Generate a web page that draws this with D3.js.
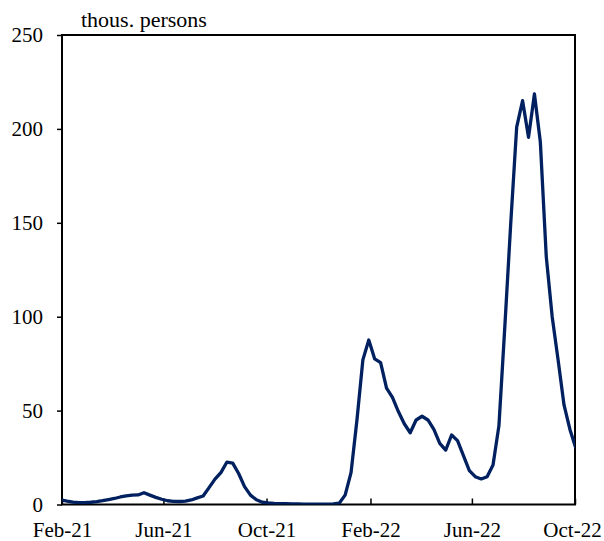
<!DOCTYPE html>
<html>
<head>
<meta charset="utf-8">
<script src="https://cdn.jsdelivr.net/npm/d3@7"></script>
<style>
  body { margin: 0; background: #fff; }
  svg { display: block; }
  .axis text { font-family: "Liberation Serif", "Times New Roman", serif; font-size: 21px; fill: #000; }
  .unit-text { font-family: "Liberation Serif", "Times New Roman", serif; font-size: 22px; fill: #000; }
</style>
</head>
<body>
<svg id="chart" width="604" height="541"></svg>
<script>
// weekly series, first week ending 31 Jan 2021
const startDate = new Date(Date.UTC(2021, 0, 31));
const values = [
  2.4, 1.8, 1.3, 1.0, 1.0, 1.2, 1.5, 2.0, 2.6, 3.2,
  4.0, 4.6, 5.0, 5.1, 6.3, 5.0, 3.8, 2.8, 2.0, 1.7,
  1.6, 1.8, 2.4, 3.5, 4.5, 9.0, 13.5, 17.0, 22.5, 22.0,
  16.5, 9.5, 5.0, 2.5, 1.2, 0.8, 0.6, 0.5, 0.4, 0.3,
  0.3, 0.2, 0.2, 0.2, 0.2, 0.2, 0.3, 0.7, 5.0, 17.0,
  45.0, 77.0, 87.6, 77.5, 75.5, 62.0, 57.0, 49.5, 43.0, 38.2,
  45.0, 47.0, 45.0, 40.0, 32.5, 29.0, 37.0, 34.0, 26.0, 18.0,
  14.8, 13.6, 14.8, 21.0, 42.0, 95.0, 150.0, 201.0, 215.0, 195.5,
  218.6, 193.0, 132.0, 100.0, 77.0, 53.0, 40.0, 30.0
];
const xTickDates = ["2021-02-01", "2021-06-01", "2021-10-01", "2022-02-01", "2022-06-01", "2022-10-01"];
const yTicks = [0, 50, 100, 150, 200, 250];
const unitLabel = "thous. persons";

function drawChart(svgId) {
    const margin = { left: 62, top: 35, right: 29, bottom: 36.5 };
    const svg = d3.select("#" + svgId);
    const width = +svg.attr("width") - margin.left - margin.right;
    const height = +svg.attr("height") - margin.top - margin.bottom;
    const lineColor = "#002060";

    const tickDates = xTickDates.map(function(s) { return new Date(s + "T00:00:00Z"); });

    var x = d3.scaleUtc()
        .domain([tickDates[0], tickDates[tickDates.length - 1]])
        .range([0, width]);

    var y = d3.scaleLinear()
        .domain([0, 250])
        .range([height, 0]);

    var data = values.map(function(v, i) {
        return { date: d3.utcDay.offset(startDate, 7 * i), value: v };
    });

    var g = svg.append("g")
        .attr("transform", `translate(${margin.left},${margin.top})`);

    g.append("clipPath")
        .attr("id", "plotClip")
        .append("rect")
        .attr("x", 0)
        .attr("y", -5)
        .attr("width", width)
        .attr("height", height + 5);

    // y axis, ticks outside
    var yAxis = g.append("g")
        .attr("class", "axis")
        .call(d3.axisLeft(y)
            .tickValues(yTicks)
            .tickSize(5)
            .tickSizeOuter(0)
            .tickPadding(14)
            .tickFormat(d3.format("d")));
    yAxis.select(".domain").remove();
    yAxis.selectAll(".tick line").attr("stroke", "#000").attr("stroke-width", 1.5);

    // x axis, ticks pointing up into the plot
    var xAxis = g.append("g")
        .attr("class", "axis")
        .attr("transform", `translate(0,${height})`)
        .call(d3.axisBottom(x)
            .tickValues(tickDates)
            .tickSizeInner(-6)
            .tickSizeOuter(0)
            .tickPadding(18)
            .tickFormat(d3.utcFormat("%b-%y")));
    xAxis.select(".domain").remove();
    xAxis.selectAll(".tick line").attr("stroke", "#000").attr("stroke-width", 1.5);
    // last label is nudged left so it stays inside the picture
    xAxis.selectAll(".tick text")
        .filter(function(d, i) { return i == tickDates.length - 1; })
        .attr("dx", -3);

    // frame
    g.append("rect")
        .attr("x", 0)
        .attr("y", 0)
        .attr("width", width)
        .attr("height", height)
        .attr("fill", "none")
        .attr("stroke", "#000")
        .attr("stroke-width", 2);

    var line = d3.line()
        .x(function(d) { return x(d.date); })
        .y(function(d) { return y(d.value); });

    g.append("path")
        .datum(data)
        .attr("clip-path", "url(#plotClip)")
        .attr("d", line)
        .attr("fill", "none")
        .attr("stroke", lineColor)
        .attr("stroke-width", 3.3)
        .attr("stroke-linejoin", "round");

    svg.append("text")
        .attr("class", "unit-text")
        .attr("x", 81)
        .attr("y", 27)
        .text(unitLabel);
}

drawChart("chart");
</script>
</body>
</html>
